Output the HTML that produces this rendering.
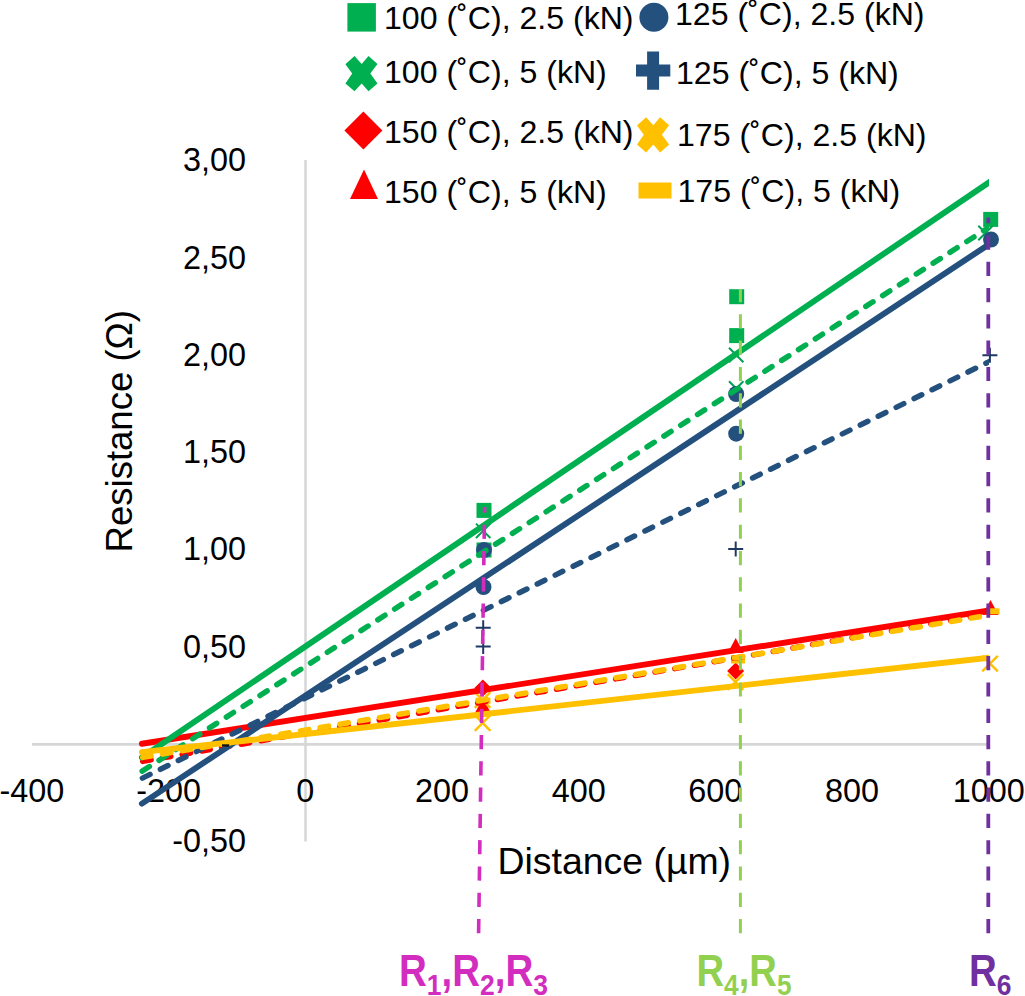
<!DOCTYPE html>
<html><head><meta charset="utf-8"><style>
html,body{margin:0;padding:0;background:#fff;}
body{width:1025px;height:996px;overflow:hidden;}
svg{display:block;}
text{font-family:"Liberation Sans", sans-serif;fill:#000;}
.t{font-size:32.4px;}
.lg{font-size:32.1px;}
.ax{font-size:37.4px;}
.rl{font-size:43.6px;font-weight:bold;}
.sub{font-size:30px;}
</style></head><body>
<svg width="1025" height="996" viewBox="0 0 1025 996">
<rect width="1025" height="996" fill="#fff"/>
<line x1="305.5" y1="160" x2="305.5" y2="841.5" stroke="#D6D6D6" stroke-width="2.5"/>
<line x1="32" y1="744.4" x2="988" y2="744.4" stroke="#D6D6D6" stroke-width="2.8"/>
<text x="246" y="171.2" text-anchor="end" class="t">3,00</text>
<text x="246" y="268.5" text-anchor="end" class="t">2,50</text>
<text x="246" y="365.8" text-anchor="end" class="t">2,00</text>
<text x="246" y="463.0" text-anchor="end" class="t">1,50</text>
<text x="246" y="560.3" text-anchor="end" class="t">1,00</text>
<text x="246" y="657.6" text-anchor="end" class="t">0,50</text>
<text x="246" y="852.2" text-anchor="end" class="t">-0,50</text>
<text x="31.9" y="801.8" text-anchor="middle" class="t">-400</text>
<text x="168.6" y="801.8" text-anchor="middle" class="t">-200</text>
<text x="305.3" y="801.8" text-anchor="middle" class="t">0</text>
<text x="442.0" y="801.8" text-anchor="middle" class="t">200</text>
<text x="578.7" y="801.8" text-anchor="middle" class="t">400</text>
<text x="715.3" y="801.8" text-anchor="middle" class="t">600</text>
<text x="852.0" y="801.8" text-anchor="middle" class="t">800</text>
<text x="988.7" y="801.8" text-anchor="middle" class="t">1000</text>
<text x="614.3" y="874" text-anchor="middle" class="ax">Distance (µm)</text>
<text transform="translate(132.1,431.2) rotate(-90)" x="0" y="0" text-anchor="middle" class="ax" textLength="242.5" lengthAdjust="spacingAndGlyphs">Resistance (Ω)</text>
<rect x="476.5" y="502.9" width="15" height="15" fill="#00B050"/>
<rect x="476.5" y="542.5" width="15" height="15" fill="#00B050"/>
<rect x="729.2" y="289.2" width="15" height="15" fill="#00B050"/>
<rect x="729.2" y="328.1" width="15" height="15" fill="#00B050"/>
<rect x="983.2" y="211.9" width="15" height="15" fill="#00B050"/>
<path d="M476.0,523.6L490.4,538.0M490.4,523.6L476.0,538.0" stroke="#00A050" stroke-width="2" fill="none"/>
<path d="M729.0,347.8L743.4,362.2M743.4,347.8L729.0,362.2" stroke="#00A050" stroke-width="2" fill="none"/>
<path d="M729.0,381.3L743.4,395.7M743.4,381.3L729.0,395.7" stroke="#00A050" stroke-width="2" fill="none"/>
<path d="M978.3,225.8L992.7,240.2M992.7,225.8L978.3,240.2" stroke="#00A050" stroke-width="2" fill="none"/>
<circle cx="484.0" cy="550.0" r="8" fill="#24507E"/>
<circle cx="483.5" cy="587.0" r="8" fill="#24507E"/>
<circle cx="736.2" cy="394.0" r="8" fill="#24507E"/>
<circle cx="736.2" cy="433.7" r="8" fill="#24507E"/>
<circle cx="991.0" cy="239.5" r="8" fill="#24507E"/>
<path d="M475.7,627.8H490.7M483.2,620.3V635.3" stroke="#1F3864" stroke-width="2" fill="none"/>
<path d="M475.7,646.5H490.7M483.2,639.0V654.0" stroke="#1F3864" stroke-width="2" fill="none"/>
<path d="M728.2,549.1H743.2M735.7,541.6V556.6" stroke="#1F3864" stroke-width="2" fill="none"/>
<path d="M982.4,355.3H997.4M989.9,347.8V362.8" stroke="#1F3864" stroke-width="2" fill="none"/>
<path d="M482.9,679.6L491.4,688.1L482.9,696.6L474.4,688.1Z" fill="#FF0000"/>
<path d="M735.6,662.5L744.1,671.0L735.6,679.5L727.1,671.0Z" fill="#FF0000"/>
<path d="M482.9,698.0L490.9,713.0L474.9,713.0Z" fill="#FF0000"/>
<path d="M735.7,638.0L743.7,653.0L727.7,653.0Z" fill="#FF0000"/>
<path d="M990.5,600.1L998.5,615.1L982.5,615.1Z" fill="#FF0000"/>
<path d="M474.8,715.2L490.4,730.8M490.4,715.2L474.8,730.8" stroke="#FFC000" stroke-width="2.4" fill="none"/>
<path d="M474.8,692.2L490.4,707.8M490.4,692.2L474.8,707.8" stroke="#FFC000" stroke-width="2.4" fill="none"/>
<path d="M727.7,674.2L743.3,689.8M743.3,674.2L727.7,689.8" stroke="#FFC000" stroke-width="2.4" fill="none"/>
<path d="M982.2,655.8L997.8,671.4M997.8,655.8L982.2,671.4" stroke="#FFC000" stroke-width="2.4" fill="none"/>
<rect x="475.5" y="697.7" width="15" height="6" fill="#FFC000"/>
<rect x="731.0" y="655.0" width="14" height="8.5" fill="#FFC000"/>
<rect x="984.5" y="608.3" width="15" height="6" fill="#FFC000"/>
<clipPath id="pc"><rect x="130" y="100" width="859" height="800"/></clipPath><g clip-path="url(#pc)">
<line x1="141.9" y1="743.74" x2="994" y2="609.66" stroke="#FF0000" stroke-width="5.9" stroke-linecap="round"/>
<line x1="139.0" y1="762.00" x2="994" y2="612.95" stroke="#FF0000" stroke-width="5.5" stroke-dasharray="8.5 11.5" stroke-dashoffset="-3.8" stroke-linecap="round"/>
<line x1="141.9" y1="757.53" x2="994" y2="178.93" stroke="#00B050" stroke-width="5.9" stroke-linecap="round"/>
<line x1="139.0" y1="773.20" x2="994" y2="224.05" stroke="#00B050" stroke-width="5.5" stroke-dasharray="8.5 11.5" stroke-dashoffset="-3.8" stroke-linecap="round"/>
<line x1="141.9" y1="803.59" x2="994" y2="241.04" stroke="#24507E" stroke-width="5.9" stroke-linecap="round"/>
<line x1="139.0" y1="779.80" x2="994" y2="359.25" stroke="#24507E" stroke-width="5.5" stroke-dasharray="8.5 11.5" stroke-dashoffset="-3.8" stroke-linecap="round"/>
<line x1="139.0" y1="758.00" x2="994" y2="614.29" stroke="#FFC000" stroke-width="5.5" stroke-dasharray="8.5 11.5" stroke-dashoffset="-3.8" stroke-linecap="round"/>
<line x1="141.9" y1="752.18" x2="994" y2="657.23" stroke="#FFC000" stroke-width="5.9" stroke-linecap="round"/>
</g>
<rect x="222" y="744.3" width="7.2" height="2.4" fill="#111"/>
<line x1="478.6" y1="933.2" x2="484.6" y2="507" stroke="#D22DBE" stroke-width="3.6" stroke-dasharray="14.2 12.09"/>
<line x1="740.4" y1="933.2" x2="740.4" y2="289" stroke="#92D050" stroke-width="3" stroke-dasharray="14.2 12.09"/>
<line x1="988.3" y1="933.2" x2="988.3" y2="217.5" stroke="#7030A0" stroke-width="3.8" stroke-dasharray="14.2 12.09"/>
<rect x="347.4" y="3.1" width="28.5" height="28.5" fill="#00B050"/>
<text x="384" y="28.7" class="lg">100 (˚C), 2.5 (kN)</text>
<polygon points="345.4,64.2 354.5,56.1 361.7,64.0 368.5,56.1 377.5,64.0 370.3,73.5 377.5,83.4 368.5,91.3 361.7,83.4 354.5,91.3 345.4,83.4 352.2,73.5" fill="#00B050"/>
<text x="384" y="82.7" class="lg">100 (˚C), 5 (kN)</text>
<path d="M363.4,111.6L382.4,130.6L363.4,149.6L344.4,130.6Z" fill="#FF0000"/>
<text x="384" y="142.5" class="lg">150 (˚C), 2.5 (kN)</text>
<path d="M364.0,169.4L378.0,198.9L350.0,198.9Z" fill="#FF0000"/>
<text x="384" y="203" class="lg">150 (˚C), 5 (kN)</text>
<circle cx="653.9" cy="17.2" r="14.5" fill="#24507E"/>
<text x="675" y="25" class="lg">125 (˚C), 2.5 (kN)</text>
<path d="M636,70.6 H670.3 M653.1,51.5 V89.8" stroke="#24507E" stroke-width="12" fill="none"/>
<text x="676" y="83.5" class="lg">125 (˚C), 5 (kN)</text>
<polygon points="637.0,125.4 646.1,117.3 653.3,125.2 660.1,117.3 669.1,125.2 661.9,134.7 669.1,144.6 660.1,152.5 653.3,144.6 646.1,152.5 637.0,144.6 643.8,134.7" fill="#FFC000"/>
<text x="677" y="146" class="lg">175 (˚C), 2.5 (kN)</text>
<rect x="638.5" y="182.5" width="33" height="16" fill="#FFC000"/>
<text x="677.5" y="201.5" class="lg">175 (˚C), 5 (kN)</text>
<text x="399" y="985.9" class="rl" style="fill:#D22DBE" textLength="149" lengthAdjust="spacingAndGlyphs">R<tspan class="sub" dy="9.5">1</tspan><tspan dy="-9.5">,</tspan>R<tspan class="sub" dy="9.5">2</tspan><tspan dy="-9.5">,</tspan>R<tspan class="sub" dy="9.5">3</tspan></text>
<text x="696.5" y="985.9" class="rl" style="fill:#92D050" textLength="95" lengthAdjust="spacingAndGlyphs">R<tspan class="sub" dy="9.5">4</tspan><tspan dy="-9.5">,</tspan>R<tspan class="sub" dy="9.5">5</tspan></text>
<text x="969" y="985.9" class="rl" style="fill:#7030A0" textLength="42.5" lengthAdjust="spacingAndGlyphs">R<tspan class="sub" dy="9.5">6</tspan></text>
</svg>
</body></html>
